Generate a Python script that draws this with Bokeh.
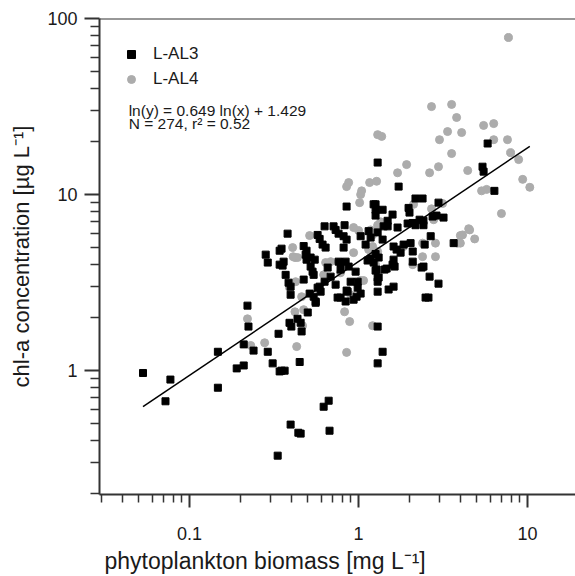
from bokeh.plotting import figure
from bokeh.models import Range1d, FixedTicker, Legend, LegendItem, Label, Span, CustomJSTickFormatter, Title
from bokeh.embed import file_html
from bokeh.resources import INLINE

# ---- data ----
al3_x = [0.053, 0.077, 0.072, 0.147, 0.147, 0.19, 0.209, 0.209, 0.239, 0.22,
         0.223, 0.29, 0.31, 0.341, 0.336, 0.282, 0.29, 0.341, 0.341, 0.332,
         0.396, 0.44, 0.454, 0.621, 0.665, 0.673, 0.448, 0.35, 0.365, 0.39,
         0.40, 0.435, 0.454, 0.46, 0.50, 0.557, 1.296, 1.296, 0.36, 0.355,
         0.37, 0.385, 0.396, 0.396, 0.473, 0.52, 0.534, 0.492, 0.55, 0.542,
         0.513, 0.542, 0.557, 0.572, 0.588, 0.596, 0.629, 0.683, 0.656, 0.761,
         0.782, 0.731, 0.751, 0.782, 0.838, 0.861, 0.934, 0.973, 1.028, 0.987,
         0.987, 0.897, 0.849, 1.13, 1.178, 1.296, 1.296, 1.278, 0.96, 0.873,
         0.838, 0.782, 1.296, 0.849, 1.227, 1.26, 0.38, 0.35, 0.473, 0.492,
         0.572, 0.588, 0.629, 0.612, 0.638, 0.711, 0.731, 0.826, 0.761, 0.815,
         0.849, 1.028, 1.146, 1.178, 1.296, 0.486, 0.52, 0.815, 1.10, 1.725,
         2.17, 2.39, 2.97, 3.18, 2.89, 2.74, 2.42, 2.42, 2.67, 2.0,
         1.975, 2.09, 1.95, 2.295, 2.17, 1.26, 1.387, 1.26, 1.588, 1.485,
         1.406, 1.485, 1.70, 1.387, 1.61, 1.678, 1.846, 2.03, 2.09, 1.772,
         2.46, 3.65, 2.09, 1.61, 1.633, 1.26, 1.314, 1.227, 2.42, 1.26,
         1.425, 1.465, 1.588, 1.314, 1.296, 1.505, 1.61, 2.36, 2.63, 2.97,
         2.49, 2.59, 1.387, 5.8, 5.41, 5.49, 6.36]
al3_y = [0.97, 0.89, 0.67, 1.28, 0.80, 1.03, 1.07, 1.41, 1.30, 2.34,
         1.78, 1.28, 1.10, 0.99, 1.62, 4.56, 4.11, 4.8, 4.0, 0.329,
         0.494, 0.444, 0.439, 0.624, 0.675, 0.456, 1.12, 1.0, 1.0, 1.87,
         1.78, 1.97, 1.87, 1.67, 2.14, 2.43, 1.10, 1.78, 4.16, 3.95,
         3.5, 3.16, 3.0, 2.7, 3.29, 3.9, 3.65, 4.27, 4.27, 3.5,
         2.74, 2.63, 2.47, 2.96, 3.0, 2.81, 3.2, 3.42, 3.85, 4.16,
         3.75, 3.08, 2.6, 2.6, 2.47, 2.81, 2.53, 2.63, 2.74, 2.96,
         3.2, 3.2, 2.85, 4.22, 4.33, 2.81, 3.38, 3.75, 3.65, 3.9,
         4.16, 4.11, 15.2, 8.55, 8.8, 8.2, 6.0, 4.93, 5.1, 4.8,
         5.9, 5.6, 6.6, 5.2, 5.0, 6.6, 6.3, 6.7, 6.0, 5.8,
         5.55, 5.8, 6.2, 5.7, 6.1, 4.56, 4.39, 5.0, 5.2, 11.1,
         9.5, 9.5, 9.0, 7.4, 7.6, 7.5, 7.1, 6.7, 5.8, 7.9,
         8.4, 6.9, 6.85, 7.2, 6.7, 8.8, 8.2, 7.6, 7.7, 7.1,
         6.6, 6.6, 6.5, 5.55, 5.07, 4.87, 5.2, 5.3, 4.75, 4.68,
         5.2, 5.3, 4.16, 4.27, 3.9, 4.6, 4.39, 4.11, 3.9, 3.7,
         3.75, 3.8, 4.0, 3.38, 3.2, 2.89, 3.0, 3.85, 3.42, 3.12,
         2.6, 2.6, 1.28, 19.5, 14.4, 13.5, 10.5]

al4_x = [0.22, 0.23, 0.278, 0.43, 0.42, 0.473, 0.466, 0.849, 0.826, 0.885,
         1.21, 0.42, 0.39, 0.424, 0.46, 0.621, 0.638, 0.683, 0.782, 0.897,
         1.028, 1.07, 1.26, 1.296, 0.873, 0.849, 1.162, 1.278, 1.042, 1.028,
         1.014, 0.407, 0.513, 0.934, 1.0, 1.146, 1.296, 0.435, 0.41, 0.934,
         2.70, 3.55, 3.8, 3.36, 4.07, 3.01, 3.55, 1.37, 1.923, 1.70,
         2.63, 2.97, 4.42, 2.70, 3.14, 2.78, 2.115, 1.35, 1.296, 1.178,
         1.21, 1.846, 2.39, 2.85, 4.0, 4.48, 3.85, 2.39, 2.85, 1.21,
         2.09, 7.7, 5.49, 6.3, 6.3, 7.6, 7.93, 8.85, 9.35, 10.3,
         5.34, 5.72, 7.0, 4.54, 4.12, 4.86, 4.0]
al4_y = [1.97, 1.39, 1.44, 1.37, 2.16, 2.22, 1.8, 1.27, 2.16, 1.9,
         1.8, 4.39, 2.96, 3.2, 2.63, 3.5, 4.11, 4.16, 3.6, 2.7,
         3.25, 3.25, 4.0, 21.9, 11.7, 11.1, 11.7, 11.9, 10.5, 10.0,
         9.0, 5.0, 5.85, 6.5, 6.25, 4.87, 4.75, 4.39, 4.44, 4.68,
         31.6, 32.5, 27.4, 22.8, 22.5, 20.5, 17.1, 21.4, 14.8, 13.3,
         13.3, 14.4, 13.7, 8.3, 8.9, 7.2, 8.8, 7.0, 6.7, 6.3,
         5.9, 5.07, 5.3, 5.3, 5.85, 6.4, 5.3, 4.44, 4.44, 5.07,
         4.0, 78.0, 24.7, 25.3, 20.5, 20.5, 17.3, 15.8, 12.2, 11.0,
         10.5, 10.7, 7.8, 6.3, 5.9, 5.6, 5.3]

# regression line ln(y) = 0.649 ln(x) + 1.429, end points as read
fit_x = [0.053, 10.3]
fit_y = [0.625, 18.8]

series_names = ["L-AL3", "L-AL4"]
equation_lines = ["ln(y) = 0.649 ln(x) + 1.429", "N = 274, r\u00b2 = 0.52"]
x_title = "phytoplankton biomass [mg L\u207b\u00b9]"
y_title = "chl-a concentration [\u00b5g L\u207b\u00b9]"

x_major = [0.1, 1, 10]
x_minor = [0.03, 0.04, 0.05, 0.06, 0.07, 0.08, 0.09,
           0.2, 0.3, 0.4, 0.5, 0.6, 0.7, 0.8, 0.9,
           2, 3, 4, 5, 6, 7, 8, 9]
y_major = [1, 10, 100]
y_minor = [0.2, 0.3, 0.4, 0.5, 0.6, 0.7, 0.8, 0.9,
           2, 3, 4, 5, 6, 7, 8, 9,
           20, 30, 40, 50, 60, 70, 80, 90]

FONT = "Liberation Sans"
AX = "#333333"
TXT = "#1a1a1a"

p = figure(width=575, height=576, x_axis_type="log", y_axis_type="log",
           x_range=Range1d(0.0293, 19.2), y_range=Range1d(0.198, 100),
           output_backend="svg", toolbar_location=None, title=None,
           min_border_left=99, min_border_right=0, min_border_top=18,
           min_border_bottom=81)
p.outline_line_color = None
p.xgrid.visible = False
p.ygrid.visible = False
p.background_fill_color = "white"

fmt = CustomJSTickFormatter(code="return tick.toString();")
for ax in (p.xaxis[0], p.yaxis[0]):
    ax.axis_line_width = 2
    ax.axis_line_color = AX
    ax.major_tick_line_width = 2
    ax.major_tick_line_color = AX
    ax.minor_tick_line_width = 1.5
    ax.minor_tick_line_color = AX
    ax.major_tick_in = 0
    ax.minor_tick_in = 0
    ax.major_label_text_font = FONT
    ax.major_label_text_font_size = "18px"
    ax.major_label_text_color = TXT
    ax.formatter = fmt

p.xaxis.ticker = FixedTicker(ticks=x_major, minor_ticks=x_minor)
p.yaxis.ticker = FixedTicker(ticks=y_major, minor_ticks=y_minor)
p.xaxis.major_tick_out = 13
p.xaxis.minor_tick_out = 8
p.xaxis.major_label_standoff = 19
p.yaxis.major_tick_out = 15
p.yaxis.minor_tick_out = 9
p.yaxis.major_label_standoff = 7

p.yaxis.axis_label = y_title
p.yaxis.axis_label_text_font = FONT
p.yaxis.axis_label_text_font_size = "22px"
p.yaxis.axis_label_text_font_style = "normal"
p.yaxis.axis_label_text_color = TXT
p.yaxis.axis_label_standoff = 10

# x axis title, left-aligned as in the reference
p.add_layout(Title(text=x_title, align="left", offset=5, standoff=6,
                   vertical_align="bottom", text_font=FONT,
                   text_font_size="23px", text_font_style="normal",
                   text_color=TXT), "below")

# top frame line
p.add_layout(Span(location=100, dimension="width", line_color=AX, line_width=2))

r4 = p.scatter(al4_x, al4_y, marker="circle", size=8, color="#acacac")
r3 = p.scatter(al3_x, al3_y, marker="square", size=7, color="black")
p.line(fit_x, fit_y, color="black", line_width=1.5)

legend = Legend(items=[LegendItem(label=series_names[0], renderers=[r3]),
                       LegendItem(label=series_names[1], renderers=[r4])],
                location=(22, 405), glyph_width=20, glyph_height=20, spacing=5,
                padding=0, margin=0, label_standoff=12,
                border_line_color=None, background_fill_alpha=0,
                label_text_font=FONT, label_text_font_size="17px",
                label_text_color=TXT)
p.add_layout(legend)

p.add_layout(Label(x=0.0436, y=30.0, text=equation_lines[0], text_font=FONT,
                   text_font_size="15.5px", text_baseline="middle", text_color=TXT))
p.add_layout(Label(x=0.0436, y=25.2, text=equation_lines[1], text_font=FONT,
                   text_font_size="15.5px", text_baseline="middle", text_color=TXT))

open("out.html", "w").write(file_html(p, INLINE))
